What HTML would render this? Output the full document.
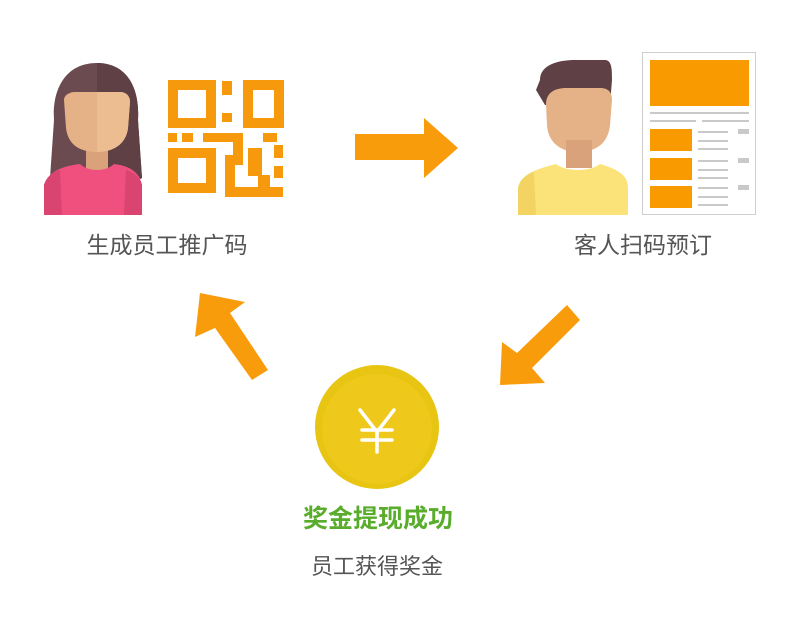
<!DOCTYPE html>
<html><head><meta charset="utf-8"><style>
html,body{margin:0;padding:0;background:#fff;}
svg{display:block;}
text{font-family:"Liberation Sans","Noto Sans CJK SC",sans-serif;}
</style></head><body>
<svg width="796" height="638" viewBox="0 0 796 638" xmlns="http://www.w3.org/2000/svg">
<rect width="796" height="638" fill="#fff"/>
<!-- woman -->
<path d="M97 63 C65 63 52 90 54 120 L50 178 C70 188 124 188 142 178 L138 120 C140 85 125 63 97 63Z" fill="#6b4b4f"/>
<path d="M97 63 C125 63 140 85 138 120 L142 178 C130 184 110 186 97 186Z" fill="#5e4045"/>
<rect x="86" y="140" width="22" height="30" fill="#d9a27a"/>
<path d="M64 100 C64 95 70 92 75 92 L120 92 C126 92 130 96 130 102 L128 128 C126 145 112 152 97 152 C80 152 68 145 66 128Z" fill="#e5b287"/>
<path d="M97 92 L120 92 C126 92 130 96 130 102 L128 128 C126 145 112 152 97 152Z" fill="#edbd92"/>
<path d="M44 185 C48 172 62 166 80 164 C88 172 106 172 114 164 C132 166 140 174 142 185 L142 215 L44 215Z" fill="#f0507e"/>
<path d="M44 185 C46 178 52 172 60 170 L62 215 L44 215Z" fill="#d94470"/>
<path d="M142 185 C140 178 134 172 126 170 L124 215 L142 215Z" fill="#d94470"/>
<!-- QR -->
<g fill="none" stroke="#f7990c" stroke-width="10">
<rect x="173" y="85" width="38" height="38"/>
<rect x="248" y="85" width="31" height="38"/>
<rect x="173" y="153" width="38" height="35"/>
</g>
<g fill="#f7990c">
<rect x="222" y="81" width="10" height="14"/>
<rect x="222" y="113" width="10" height="9"/>
<rect x="168" y="133" width="9" height="9"/>
<rect x="182" y="133" width="11" height="9"/>
<rect x="203" y="133" width="40" height="9"/>
<rect x="263" y="133" width="14" height="9"/>
<rect x="233" y="133" width="10" height="30"/>
<rect x="225" y="155" width="18" height="10"/>
<rect x="225" y="165" width="10" height="32"/>
<rect x="225" y="187" width="58" height="10"/>
<rect x="248" y="148" width="14" height="28"/>
<rect x="274" y="145" width="9" height="13"/>
<rect x="274" y="166" width="9" height="12"/>
<rect x="258" y="175" width="12" height="12"/>
</g>
<!-- arrow right -->
<polygon points="355,134 424,134 424,118 458,148 424,178 424,160 355,160" fill="#f99c0c"/>
<!-- man -->
<path d="M540 80 C540 64 560 60 575 60 L605 60 C612 60 612 70 612 80 L610 105 L545 105 L536 90Z" fill="#5e4045"/>
<path d="M546 104 C546 92 556 88 566 88 L600 88 C608 88 612 92 612 100 L610 125 C608 145 594 152 578 152 C560 152 548 142 547 125Z" fill="#e5b287"/>
<rect x="566" y="140" width="26" height="28" fill="#d9a27a"/>
<path d="M518 188 C520 176 532 170 556 164 C566 172 590 172 600 164 C620 170 628 176 628 188 L628 215 L518 215Z" fill="#fbe37a"/>
<path d="M518 188 C520 180 526 174 534 172 L536 215 L518 215Z" fill="#f3d462"/>
<!-- document -->
<rect x="642.5" y="52.5" width="113" height="162" fill="#fff" stroke="#cfcfcf"/>
<rect x="650" y="60" width="99" height="46" fill="#f99a00"/>
<rect x="650" y="112" width="99" height="2" fill="#c9c9c9"/>
<rect x="650" y="120" width="46" height="2" fill="#c9c9c9"/>
<rect x="702" y="120" width="47" height="2" fill="#c9c9c9"/>
<g fill="#f99a00">
<rect x="650" y="129" width="42" height="22"/>
<rect x="650" y="158" width="42" height="22"/>
<rect x="650" y="186" width="42" height="22"/>
</g>
<g fill="#c9c9c9">
<rect x="698" y="131" width="30" height="2"/><rect x="698" y="140" width="30" height="2"/><rect x="698" y="148" width="30" height="2"/>
<rect x="698" y="160" width="30" height="2"/><rect x="698" y="169" width="30" height="2"/><rect x="698" y="177" width="30" height="2"/>
<rect x="698" y="187" width="30" height="2"/><rect x="698" y="196" width="30" height="2"/><rect x="698" y="204" width="30" height="2"/>
<rect x="738" y="129" width="11" height="5"/><rect x="738" y="158" width="11" height="5"/><rect x="738" y="185" width="11" height="5"/>
</g>
<text x="167" y="253" font-size="23" fill="#555" text-anchor="middle">生成员工推广码</text>
<text x="643" y="253" font-size="23" fill="#555" text-anchor="middle">客人扫码预订</text>
<!-- diagonal arrows -->
<polygon points="200,293 245,302 230,313 268,370 252,380 215,328 195,337" fill="#f99c0c"/>
<polygon points="500,385 502,342 517,353 567,305 580,320 532,368 545,383" fill="#f99c0c"/>
<!-- coin -->
<circle cx="377" cy="427" r="62" fill="#e8c413"/>
<circle cx="377" cy="429" r="55" fill="#eec81a"/>
<g stroke="#fff" stroke-width="3.5" fill="none" stroke-linecap="round">
<path d="M360 410 L377 432 L394 410"/>
<path d="M377 432 L377 452"/>
<path d="M362 430 L392 430"/>
<path d="M362 440 L392 440"/>
</g>
<text x="378" y="527" font-size="25" font-weight="bold" fill="#5aac2c" text-anchor="middle">奖金提现成功</text>
<text x="377" y="574" font-size="22" fill="#555" text-anchor="middle">员工获得奖金</text>
</svg>
</body></html>
